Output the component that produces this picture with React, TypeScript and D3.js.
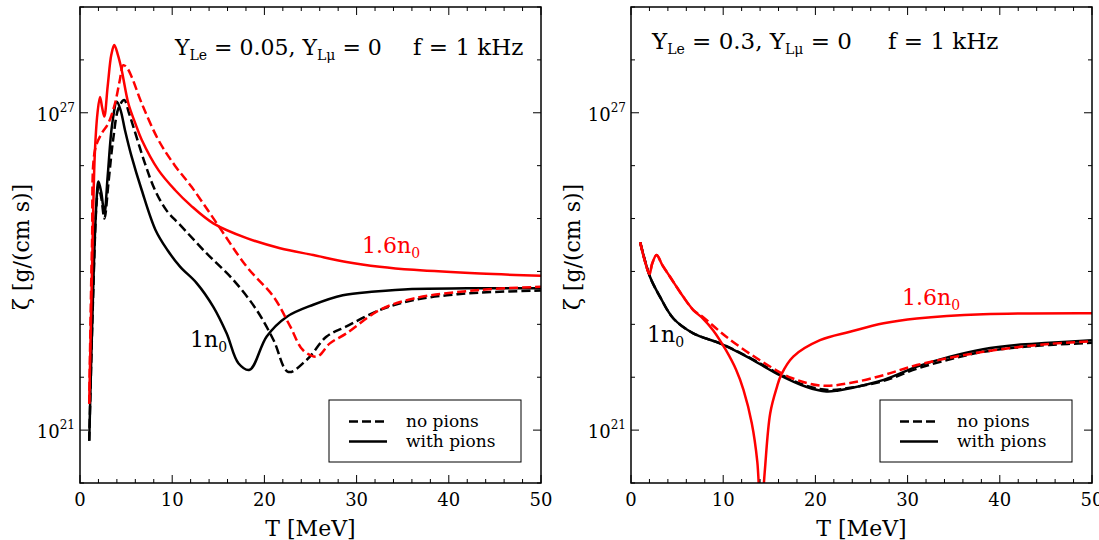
import React from "react";
import * as d3 from "d3";

// ---------- axis data ----------
const xTickValues = d3.range(0, 51, 2);
const xTickLabels = [0, 10, 20, 30, 40, 50];
const yDecades = d3.range(20, 30);
const yLabelDecades = [21, 27];

// ---------- series: temperature T [MeV] and log10(zeta) ----------
// Left panel: Y_Le = 0.05
const L_black_solid_T = [1.0, 1.4, 1.75, 2.0, 2.3, 2.65, 3.0, 3.5, 4.0, 4.4, 4.88, 5.6, 6.69, 8.2, 9.5, 10.85, 12.65, 14.46, 15.9, 17.2, 18.4, 20.25, 22.4, 25.3, 28.5, 32, 36, 42, 50];
const L_black_solid_Z = [20.8, 23.5, 25.2, 25.7, 25.5, 25.1, 25.8, 26.8, 27.21, 27.05, 26.67, 26.17, 25.54, 24.78, 24.4, 24.09, 23.78, 23.33, 22.83, 22.26, 22.14, 22.77, 23.14, 23.37, 23.55, 23.62, 23.67, 23.68, 23.68];

const L_black_dash_T = [1.0, 1.4, 1.8, 2.0, 2.3, 2.65, 3.1, 3.6, 4.2, 4.8, 5.3, 5.78, 7.05, 8.13, 9.4, 10.85, 13.74, 16.63, 19.16, 21.0, 22.6, 24.6, 26.75, 28.9, 32.5, 36.2, 39.8, 43.4, 50];
const L_black_dash_Z = [20.8, 23.4, 25.3, 25.6, 25.4, 25.0, 25.7, 26.5, 27.1, 27.24, 27.0, 26.74, 26.04, 25.54, 25.15, 24.88, 24.34, 23.84, 23.27, 22.7, 22.1, 22.33, 22.77, 22.96, 23.27, 23.46, 23.55, 23.6, 23.64];

const L_red_solid_T = [1.0, 1.3, 1.6, 1.9, 2.17, 2.4, 2.64, 3.0, 3.4, 3.72, 4.1, 4.52, 5.24, 6.0, 6.69, 8.49, 10.3, 12.0, 14.46, 18.08, 21.7, 25.3, 28.9, 32.5, 36.2, 43.4, 50];
const L_red_solid_Z = [21.5, 24.0, 26.2, 27.0, 27.3, 27.1, 26.93, 27.5, 28.1, 28.28, 28.1, 27.81, 27.18, 26.8, 26.49, 25.92, 25.54, 25.25, 24.91, 24.63, 24.44, 24.31, 24.18, 24.09, 24.03, 23.96, 23.92];

const L_red_dash_T = [1.0, 1.3, 1.63, 2.35, 3.07, 3.8, 4.3, 4.7, 5.1, 5.6, 6.69, 8.49, 10.3, 12.1, 14.6, 18.08, 21.0, 22.8, 24.2, 25.7, 27.1, 28.9, 32.5, 36.2, 43.4, 50];
const L_red_dash_Z = [21.5, 24.5, 26.3, 26.61, 26.8, 27.18, 27.6, 27.9, 27.85, 27.68, 27.18, 26.49, 26.0, 25.6, 24.97, 24.09, 23.52, 22.96, 22.51, 22.39, 22.64, 22.83, 23.27, 23.49, 23.65, 23.71];

// Right panel: Y_Le = 0.3
const R_black_solid_T = [1.0, 2.06, 3.15, 4.6, 6.76, 9.65, 12.55, 15.8, 19.0, 21.2, 22.5, 23.75, 27.4, 31.0, 34.6, 38.2, 41.8, 45.4, 50];
const R_black_solid_Z = [24.55, 23.9, 23.52, 23.11, 22.83, 22.64, 22.39, 22.07, 21.82, 21.73, 21.75, 21.79, 21.95, 22.2, 22.39, 22.53, 22.61, 22.65, 22.7];

const R_black_dash_T = [1.0, 2.06, 3.15, 4.6, 6.76, 9.65, 12.55, 15.8, 19.0, 21.5, 23.75, 27.4, 31.0, 34.6, 38.2, 41.8, 45.4, 50];
const R_black_dash_Z = [24.55, 23.9, 23.52, 23.11, 22.83, 22.64, 22.4, 22.09, 21.84, 21.76, 21.8, 21.93, 22.16, 22.34, 22.48, 22.56, 22.61, 22.65];

const R_red_solid_T = [1.0, 1.5, 2.0, 2.3, 2.78, 3.4, 4.23, 5.67, 6.76, 7.8, 8.9, 10.3, 11.4, 12.2, 13.1, 13.7, 14.1, 14.5, 15.1, 15.8, 16.3, 17.6, 20.5, 23.75, 27.4, 31.0, 38.2, 50];
const R_red_solid_Z = [24.55, 24.2, 23.95, 24.15, 24.31, 24.12, 23.9, 23.52, 23.27, 23.11, 22.89, 22.51, 22.14, 21.76, 21.13, 20.4, 19.3, 20.2, 21.32, 21.8, 22.05, 22.39, 22.7, 22.86, 23.02, 23.11, 23.19, 23.21];

const R_red_dash_T = [1.0, 1.5, 2.0, 2.3, 2.78, 3.4, 4.23, 5.67, 6.76, 7.8, 10.3, 13.9, 17.5, 20.8, 23.75, 27.4, 31.0, 38.2, 45.4, 50];
const R_red_dash_Z = [24.55, 24.2, 23.95, 24.15, 24.31, 24.12, 23.9, 23.52, 23.27, 23.14, 22.77, 22.33, 21.98, 21.84, 21.89, 22.04, 22.23, 22.48, 22.63, 22.68];

const zip = (t: number[], z: number[]) => t.map((v, i) => [v, Math.pow(10, z[i])] as [number, number]);

const FONT = "'DejaVu Serif', 'Liberation Serif', serif";
const RED = "#ff0000";
const DASH = "9,4";

type Series = { data: [number, number][]; color: string; dashed: boolean };

const leftSeries: Series[] = [
  { data: zip(L_black_solid_T, L_black_solid_Z), color: "#000", dashed: false },
  { data: zip(L_black_dash_T, L_black_dash_Z), color: "#000", dashed: true },
  { data: zip(L_red_solid_T, L_red_solid_Z), color: RED, dashed: false },
  { data: zip(L_red_dash_T, L_red_dash_Z), color: RED, dashed: true },
];
const rightSeries: Series[] = [
  { data: zip(R_black_dash_T, R_black_dash_Z), color: "#000", dashed: true },
  { data: zip(R_black_solid_T, R_black_solid_Z), color: "#000", dashed: false },
  { data: zip(R_red_solid_T, R_red_solid_Z), color: RED, dashed: false },
  { data: zip(R_red_dash_T, R_red_dash_Z), color: RED, dashed: true },
];

const TOP = 7;
const BOTTOM = 483;
const PW = 461;

function Panel(props: {
  id: string;
  x0: number;
  series: Series[];
  yle: string;
  titleX: number;
  titleY: number;
  titleSize: number;
  fX: number;
  label16: [number, number];
  label1: [number, number];
}) {
  const { id, x0, series } = props;
  const x = d3.scaleLinear().domain([0, 50]).range([x0, x0 + PW]);
  const y = d3.scaleLog().domain([1e20, 1e29]).range([BOTTOM, TOP]);
  const line = d3
    .line<[number, number]>()
    .x((d) => x(d[0]))
    .y((d) => y(d[1]))
    .curve(d3.curveCatmullRom.alpha(0.5));
  const x1 = x0 + PW;
  const legX = x0 + 249;
  return (
    <g>
      <defs>
        <clipPath id={id}>
          <rect x={x0} y={TOP} width={PW} height={BOTTOM - TOP} />
        </clipPath>
      </defs>
      <g clipPath={`url(#${id})`}>
        {series.map((s, i) => (
          <path
            key={i}
            d={line(s.data) || ""}
            fill="none"
            stroke={s.color}
            strokeWidth={2.5}
            strokeDasharray={s.dashed ? DASH : undefined}
            strokeLinejoin="round"
          />
        ))}
      </g>
      {xTickValues.map((t) => {
        const len = t % 10 === 0 ? 8 : 4;
        return (
          <g key={"xt" + t}>
            <line x1={x(t)} x2={x(t)} y1={BOTTOM} y2={BOTTOM - len} stroke="#000" strokeWidth={1} />
            <line x1={x(t)} x2={x(t)} y1={TOP} y2={TOP + len} stroke="#000" strokeWidth={1} />
          </g>
        );
      })}
      {yDecades.map((d) => {
        const len = yLabelDecades.includes(d) ? 8 : 4;
        const yy = y(Math.pow(10, d));
        return (
          <g key={"yt" + d}>
            <line x1={x0} x2={x0 + len} y1={yy} y2={yy} stroke="#000" strokeWidth={1} />
            <line x1={x1} x2={x1 - len} y1={yy} y2={yy} stroke="#000" strokeWidth={1} />
          </g>
        );
      })}
      <rect x={x0} y={TOP} width={PW} height={BOTTOM - TOP} fill="none" stroke="#000" strokeWidth={1.5} />
      {xTickLabels.map((t) => (
        <text key={"xl" + t} x={x(t)} y={506} textAnchor="middle" fontFamily={FONT} fontSize={18} fill="#000">
          {t}
        </text>
      ))}
      {yLabelDecades.map((d) => (
        <text key={"yl" + d} x={x0 - 5} y={y(Math.pow(10, d)) + 8} textAnchor="end" fontFamily={FONT} fontSize={18} fill="#000">
          10
          <tspan fontSize={12} dy={-9}>
            {d}
          </tspan>
        </text>
      ))}
      <text x={x0 + PW / 2} y={536} textAnchor="middle" fontFamily={FONT} fontSize={22} fill="#000">
        T [MeV]
      </text>
      <text
        transform={`translate(${x0 - 51},247) rotate(-90)`}
        textAnchor="middle"
        fontFamily={FONT}
        fontSize={22}
        fill="#000"
      >
        ζ [g/(cm s)]
      </text>
      <text x={props.titleX} y={props.titleY} fontFamily={FONT} fontSize={props.titleSize} fill="#000">
        Y<tspan fontSize={14} dy={5}>Le</tspan>
        <tspan dy={-5}>{` = ${props.yle}, Y`}</tspan>
        <tspan fontSize={14} dy={5}>Lμ</tspan>
        <tspan dy={-5}> = 0</tspan>
      </text>
      <text x={props.fX} y={props.titleY} fontFamily={FONT} fontSize={23} fill="#000">
        f = 1 kHz
      </text>
      <text x={props.label16[0]} y={props.label16[1]} fontFamily={FONT} fontSize={22} fill={RED}>
        1.6n<tspan fontSize={14} dy={5}>0</tspan>
      </text>
      <text x={props.label1[0]} y={props.label1[1]} fontFamily={FONT} fontSize={22} fill="#000">
        1n<tspan fontSize={14} dy={5}>0</tspan>
      </text>
      <rect x={legX} y={400} width={192} height={62} fill="#fff" stroke="#000" strokeWidth={1} />
      <line x1={legX + 20} x2={legX + 58} y1={421.5} y2={421.5} stroke="#000" strokeWidth={2.5} strokeDasharray={DASH} />
      <line x1={legX + 20} x2={legX + 58} y1={441.5} y2={441.5} stroke="#000" strokeWidth={2.5} />
      <text x={legX + 77} y={427} fontFamily={FONT} fontSize={17} fill="#000">
        no pions
      </text>
      <text x={legX + 77} y={447} fontFamily={FONT} fontSize={17} fill="#000">
        with pions
      </text>
    </g>
  );
}

export default function App() {
  return (
    <svg
      width={1099}
      height={540}
      style={{ position: "absolute", left: 0, top: 0, background: "#fff" }}
      xmlns="http://www.w3.org/2000/svg"
    >
      <rect x={0} y={0} width={1099} height={540} fill="#fff" />
      <Panel
        id="clipL"
        x0={80}
        series={leftSeries}
        yle="0.05"
        titleX={175}
        titleY={55}
        titleSize={22}
        fX={413}
        label16={[362, 253]}
        label1={[190, 347]}
      />
      <Panel
        id="clipR"
        x0={631}
        series={rightSeries}
        yle="0.3"
        titleX={652}
        titleY={49}
        titleSize={23}
        fX={888}
        label16={[902, 305]}
        label1={[647, 342]}
      />
    </svg>
  );
}
